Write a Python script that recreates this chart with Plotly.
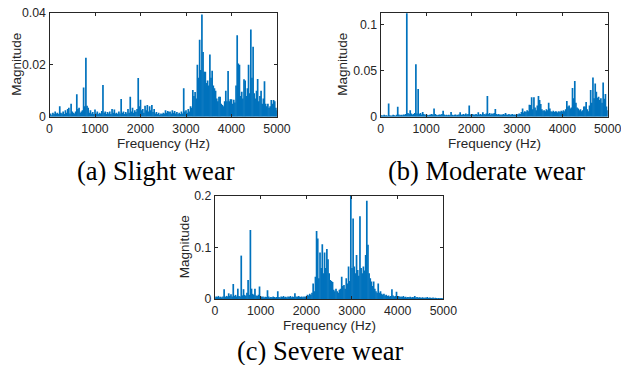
import numpy as np
import plotly.graph_objects as go

# Frequency grid (Hz), 25 Hz bins
freq = list(range(0, 5001, 25))

# (a) Slight wear - magnitude (local max per 25 Hz bin)
mag_slight = [
    0.0008, 0.0012, 0.0006, 0.0015, 0.0010, 0.0020, 0.0012, 0.0015, 0.0010, 0.0040,
    0.0015, 0.0012, 0.0020, 0.0010, 0.0025, 0.0015, 0.0030, 0.0035, 0.0012, 0.0050,
    0.0020, 0.0015, 0.0012, 0.0020, 0.0087, 0.0030, 0.0035, 0.0015, 0.0020, 0.0025,
    0.0113, 0.0040, 0.0227, 0.0042, 0.0035, 0.0015, 0.0025, 0.0012, 0.0018, 0.0010,
    0.0028, 0.0012, 0.0020, 0.0010, 0.0015, 0.0012, 0.0022, 0.0122, 0.0015, 0.0020,
    0.0010, 0.0018, 0.0012, 0.0020, 0.0010, 0.0030, 0.0015, 0.0028, 0.0012, 0.0015,
    0.0010, 0.0020, 0.0012, 0.0068, 0.0015, 0.0020, 0.0010, 0.0018, 0.0012, 0.0030,
    0.0015, 0.0077, 0.0020, 0.0035, 0.0015, 0.0025, 0.0018, 0.0030, 0.0149, 0.0040,
    0.0065, 0.0025, 0.0030, 0.0015, 0.0042, 0.0025, 0.0045, 0.0020, 0.0040, 0.0025,
    0.0045, 0.0018, 0.0030, 0.0012, 0.0018, 0.0010, 0.0015, 0.0008, 0.0012, 0.0010,
    0.0015, 0.0012, 0.0025, 0.0015, 0.0022, 0.0018, 0.0020, 0.0012, 0.0025, 0.0015,
    0.0022, 0.0012, 0.0018, 0.0010, 0.0015, 0.0010, 0.0020, 0.0012, 0.0110, 0.0020,
    0.0025, 0.0015, 0.0030, 0.0020, 0.0040, 0.0035, 0.0103, 0.0080, 0.0095, 0.0070,
    0.0200, 0.0150, 0.0297, 0.0180, 0.0394, 0.0250, 0.0173, 0.0173, 0.0130, 0.0140,
    0.0120, 0.0240, 0.0150, 0.0177, 0.0120, 0.0110, 0.0100, 0.0070, 0.0060, 0.0077,
    0.0077, 0.0050, 0.0045, 0.0040, 0.0060, 0.0100, 0.0060, 0.0176, 0.0060, 0.0067,
    0.0067, 0.0050, 0.0065, 0.0055, 0.0120, 0.0314, 0.0205, 0.0200, 0.0080, 0.0096,
    0.0070, 0.0144, 0.0140, 0.0080, 0.0110, 0.0200, 0.0090, 0.0336, 0.0150, 0.0270,
    0.0090, 0.0070, 0.0100, 0.0145, 0.0060, 0.0080, 0.0100, 0.0050, 0.0070, 0.0137,
    0.0050, 0.0040, 0.0050, 0.0035, 0.0040, 0.0064, 0.0050, 0.0064, 0.0060, 0.0035,
    0.0025,
]

# (b) Moderate wear
mag_moderate = [
    0.0010, 0.0015, 0.0010, 0.0020, 0.0012, 0.0015, 0.0010, 0.0144, 0.0015, 0.0010,
    0.0012, 0.0020, 0.0015, 0.0010, 0.0020, 0.0108, 0.0025, 0.0015, 0.0020, 0.0015,
    0.0025, 0.0020, 0.0030, 0.1120, 0.0040, 0.0030, 0.0070, 0.0035, 0.0025, 0.0030,
    0.0040, 0.0568, 0.0035, 0.0300, 0.0030, 0.0040, 0.0025, 0.0050, 0.0030, 0.0020,
    0.0025, 0.0020, 0.0015, 0.0020, 0.0025, 0.0030, 0.0020, 0.0090, 0.0030, 0.0020,
    0.0015, 0.0020, 0.0025, 0.0020, 0.0030, 0.0065, 0.0025, 0.0015, 0.0020, 0.0015,
    0.0020, 0.0015, 0.0050, 0.0020, 0.0015, 0.0020, 0.0025, 0.0015, 0.0020, 0.0025,
    0.0047, 0.0020, 0.0025, 0.0030, 0.0020, 0.0035, 0.0025, 0.0030, 0.0122, 0.0025,
    0.0020, 0.0030, 0.0020, 0.0025, 0.0030, 0.0020, 0.0047, 0.0025, 0.0030, 0.0020,
    0.0047, 0.0030, 0.0025, 0.0035, 0.0223, 0.0030, 0.0040, 0.0025, 0.0035, 0.0030,
    0.0040, 0.0083, 0.0030, 0.0025, 0.0030, 0.0020, 0.0025, 0.0020, 0.0030, 0.0025,
    0.0040, 0.0025, 0.0020, 0.0030, 0.0020, 0.0025, 0.0030, 0.0020, 0.0025, 0.0020,
    0.0030, 0.0025, 0.0035, 0.0030, 0.0050, 0.0090, 0.0045, 0.0060, 0.0050, 0.0070,
    0.0060, 0.0130, 0.0126, 0.0210, 0.0080, 0.0210, 0.0100, 0.0070, 0.0120, 0.0223,
    0.0180, 0.0137, 0.0080, 0.0065, 0.0070, 0.0060, 0.0080, 0.0070, 0.0150, 0.0090,
    0.0060, 0.0050, 0.0065, 0.0050, 0.0060, 0.0055, 0.0045, 0.0060, 0.0050, 0.0065,
    0.0055, 0.0070, 0.0060, 0.0080, 0.0170, 0.0110, 0.0120, 0.0090, 0.0100, 0.0310,
    0.0200, 0.0385, 0.0150, 0.0100, 0.0090, 0.0070, 0.0080, 0.0060, 0.0070, 0.0110,
    0.0110, 0.0160, 0.0080, 0.0060, 0.0120, 0.0290, 0.0150, 0.0424, 0.0200, 0.0360,
    0.0270, 0.0205, 0.0215, 0.0180, 0.0200, 0.0150, 0.0370, 0.0194, 0.0245, 0.0110,
    0.0070,
]

# (c) Severe wear
mag_severe = [
    0.0030, 0.0050, 0.0040, 0.0060, 0.0035, 0.0045, 0.0030, 0.0050, 0.0190, 0.0040,
    0.0060, 0.0050, 0.0110, 0.0060, 0.0090, 0.0050, 0.0290, 0.0060, 0.0080, 0.0050,
    0.0200, 0.0060, 0.0050, 0.0840, 0.0070, 0.0190, 0.0080, 0.0060, 0.0120, 0.0370,
    0.0080, 0.1335, 0.0200, 0.0100, 0.0080, 0.0200, 0.0070, 0.0060, 0.0080, 0.0240,
    0.0060, 0.0040, 0.0050, 0.0030, 0.0045, 0.0040, 0.0170, 0.0050, 0.0030, 0.0040,
    0.0035, 0.0050, 0.0040, 0.0030, 0.0040, 0.0150, 0.0040, 0.0030, 0.0050, 0.0040,
    0.0060, 0.0035, 0.0045, 0.0030, 0.0050, 0.0040, 0.0060, 0.0035, 0.0050, 0.0040,
    0.0110, 0.0050, 0.0040, 0.0060, 0.0050, 0.0040, 0.0050, 0.0035, 0.0050, 0.0040,
    0.0060, 0.0080, 0.0070, 0.0100, 0.0080, 0.0120, 0.0300, 0.0150, 0.0430, 0.1316,
    0.1170, 0.0400, 0.0900, 0.0600, 0.1060, 0.0500, 0.0900, 0.0600, 0.0970, 0.0770,
    0.0500, 0.0370, 0.0350, 0.0330, 0.0180, 0.0150, 0.0200, 0.0150, 0.0120, 0.0180,
    0.0200, 0.0430, 0.0250, 0.0270, 0.0200, 0.0400, 0.0300, 0.0630, 0.0350, 0.2000,
    0.0600, 0.1560, 0.0630, 0.0500, 0.0850, 0.0560, 0.0450, 0.1600, 0.0600, 0.0500,
    0.0630, 0.0550, 0.0850, 0.1900, 0.1050, 0.0500, 0.0400, 0.0340, 0.0250, 0.0340,
    0.0200, 0.0150, 0.0120, 0.0300, 0.0120, 0.0150, 0.0100, 0.0080, 0.0100, 0.0070,
    0.0080, 0.0060, 0.0070, 0.0050, 0.0060, 0.0190, 0.0070, 0.0050, 0.0060, 0.0140,
    0.0050, 0.0060, 0.0040, 0.0050, 0.0040, 0.0060, 0.0035, 0.0045, 0.0030, 0.0040,
    0.0035, 0.0045, 0.0030, 0.0040, 0.0035, 0.0060, 0.0030, 0.0040, 0.0025, 0.0035,
    0.0030, 0.0025, 0.0035, 0.0020, 0.0030, 0.0025, 0.0040, 0.0020, 0.0030, 0.0025,
    0.0020, 0.0030, 0.0015, 0.0025, 0.0020, 0.0015, 0.0020, 0.0015, 0.0020, 0.0015,
    0.0010,
]

x_ticks = [0, 1000, 2000, 3000, 4000, 5000]
y_ticks_a = [0, 0.02, 0.04]
y_ticks_b = [0, 0.05, 0.1]
y_ticks_c = [0, 0.1, 0.2]
captions = ["(a) Slight wear", "(b) Moderate wear", "(c) Severe wear"]

LINE = "#0072BD"
AX = "#262626"
W, H = 621, 365
SANS = "Liberation Sans, Arial"


def stems(f, m):
    xs, ys = [], []
    for fi, mi in zip(f, m):
        xs += [fi, fi, None]
        ys += [0, mi, None]
    return xs, ys


fig = go.Figure()
panels = [
    ("x", "y", mag_slight, (49.5, 277.0), (13.0, 116.7), 0.04, y_ticks_a, ["0", "0.02", "0.04"]),
    ("x2", "y2", mag_moderate, (380.7, 607.7), (13.0, 116.7), 0.1122, y_ticks_b, ["0", "0.05", "0.1"]),
    ("x3", "y3", mag_severe, (215.0, 443.3), (195.7, 299.0), 0.2, y_ticks_c, ["0", "0.1", "0.2"]),
]

layout = dict(
    width=W, height=H, margin=dict(l=0, r=0, t=0, b=0, pad=0, autoexpand=False),
    paper_bgcolor="white", plot_bgcolor="white", showlegend=False,
    font=dict(family=SANS, size=12, color=AX),
)
annotations = []
for i, (xa, ya, mag, (x0, x1), (yt, yb), ymax, yt_vals, yt_text) in enumerate(panels):
    xs, ys = stems(freq, mag)
    fig.add_trace(go.Scatter(x=xs, y=ys, mode="lines", xaxis=xa, yaxis=ya,
                             line=dict(color=LINE, width=1.7), hoverinfo="skip"))
    suffix = "" if i == 0 else str(i + 1)
    common = dict(showgrid=False, zeroline=False, showline=True, linecolor=AX, linewidth=1.3,
                  mirror="ticks", ticks="inside", ticklen=3, tickwidth=1, tickcolor=AX,
                  automargin=False, ticklabeloverflow="allow",
                  tickfont=dict(family=SANS, size=12.3, color=AX))
    layout["xaxis" + suffix] = dict(common, domain=[x0 / W, x1 / W], range=[0, 5000],
                                    tickvals=x_ticks, anchor=ya)
    layout["yaxis" + suffix] = dict(common, domain=[1 - yb / H, 1 - yt / H], range=[0, ymax],
                                    tickvals=yt_vals, ticktext=yt_text, anchor=xa)
    annotations.append(dict(text="Frequency (Hz)", xref="paper", yref="paper",
                            x=(x0 + x1) / 2 / W, y=1 - (yb + 26.5) / H, showarrow=False,
                            xanchor="center", yanchor="middle",
                            font=dict(family=SANS, size=13.5, color=AX)))
    lab_x = {0: 17, 1: 343, 2: 184}[i]
    annotations.append(dict(text="Magnitude", xref="paper", yref="paper",
                            x=lab_x / W, y=1 - (yt + yb) / 2 / H, showarrow=False, textangle=-90,
                            xanchor="center", yanchor="middle",
                            font=dict(family=SANS, size=13.5, color=AX)))

cap_pos = [(155.5, 170.5), (486.5, 170.5), (320, 350.5)]
for cap, (cx, cy) in zip(captions, cap_pos):
    annotations.append(dict(text=cap, xref="paper", yref="paper", x=cx / W, y=1 - cy / H,
                            showarrow=False, xanchor="center", yanchor="middle", borderpad=0,
                            font=dict(family="Liberation Serif, Times New Roman", size=26.5, color="black")))

layout["annotations"] = annotations
fig.update_layout(**layout)
fig.write_html("out.html", config={"displayModeBar": False},
               post_script="document.body.style.margin='0';")
